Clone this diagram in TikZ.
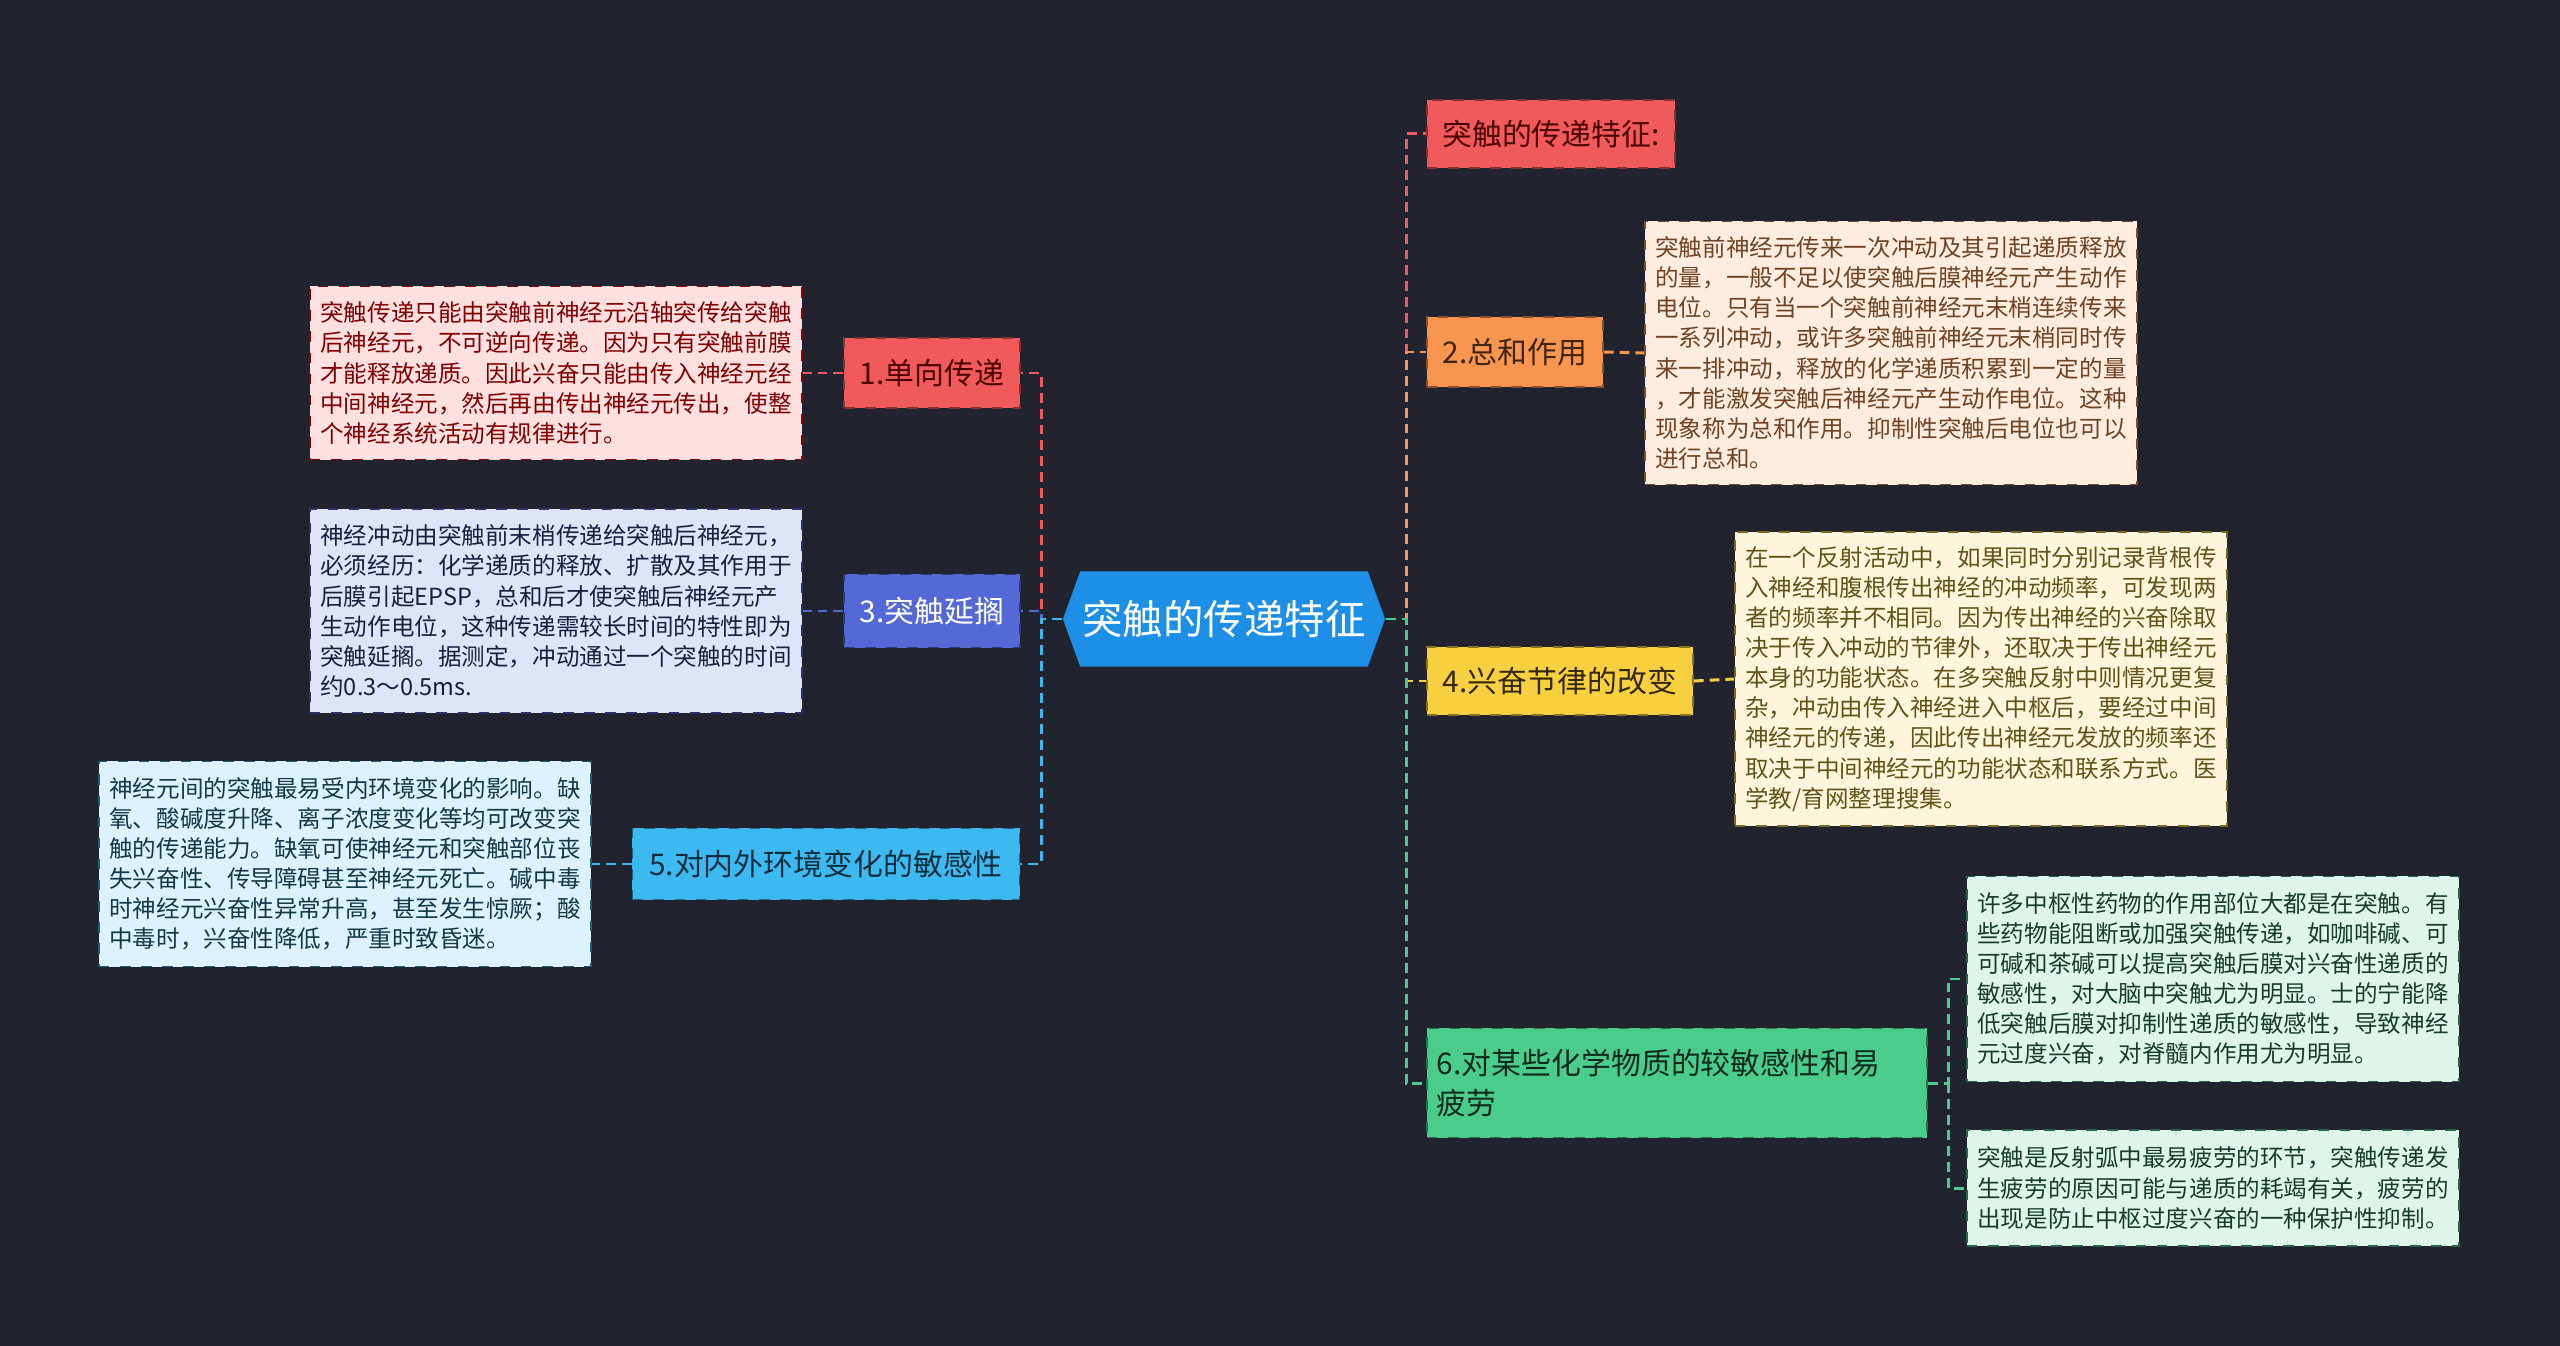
\documentclass[tikz,border=0pt]{standalone}
\usepackage{fontspec}
\setmainfont{Noto Sans CJK SC}
\usetikzlibrary{shapes.symbols}

\definecolor{bgc}{HTML}{21242F}
\definecolor{rootc}{HTML}{1E8FE6}
\definecolor{redc}{HTML}{F05A5A}
\definecolor{orgc}{HTML}{F8964F}
\definecolor{yelc}{HTML}{F8CF3F}
\definecolor{grnc}{HTML}{4ACD8B}
\definecolor{indc}{HTML}{5468D6}
\definecolor{skyc}{HTML}{3DB9F2}

\tikzset{
  topic/.style={signal, signal to=west and east, signal pointer angle=140,
    fill=rootc, text=white, minimum width=3.22cm, minimum height=0.95cm,
    inner sep=0pt, font=\fontsize{11.5}{13}\selectfont},
  branch/.style={rectangle, draw=#1!55!black, dashed, fill=#1, inner sep=0pt,
    minimum height=0.70cm, font=\fontsize{8.5}{11.6}\selectfont, align=left},
  note/.style={rectangle, draw=#1, dashed, inner sep=0pt, minimum width=4.92cm,
    font=\fontsize{6.7}{8.55}\selectfont, align=left},
  link/.style={draw=#1, line width=0.85pt, dash pattern=on 2.8pt off 1.7pt},
}

\begin{document}
\begin{tikzpicture}[x=0.01cm, y=-0.01cm]
\fill[bgc] (0,0) rectangle (2560,1346);
\useasboundingbox (0,0) rectangle (2560,1346);

\node[topic] (root) at (1224,619) {突触的传递特征};

% left side
\node[branch=redc, text=red!30!black, minimum width=1.76cm] (one) at (932,373) {1.单向传递};
\node[branch=indc, text=white, minimum width=1.76cm, minimum height=0.73cm] (three) at (932,611) {3.突触延搁};
\node[branch=skyc, text=skyc!25!black, minimum width=3.87cm, minimum height=0.71cm] (five) at (826,864) {5.对内外环境变化的敏感性};

\node[note=red!55!black, fill=red!12!white, text=red!50!black, minimum height=1.73cm] (n1) at (556,373)
{突触传递只能由突触前神经元沿轴突传给突触\\后神经元，不可逆向传递。因为只有突触前膜\\才能释放递质。因此兴奋只能由传入神经元经\\中间神经元，然后再由传出神经元传出，使整\\个神经系统活动有规律进行。};
\node[note=indc!50!black, fill=indc!18!white, text=indc!30!black, minimum height=2.04cm] (n3) at (556,611)
{神经冲动由突触前末梢传递给突触后神经元，\\必须经历：化学递质的释放、扩散及其作用于\\后膜引起EPSP，总和后才使突触后神经元产\\生动作电位，这种传递需较长时间的特性即为\\突触延搁。据测定，冲动通过一个突触的时间\\约0.3～0.5ms.};
\node[note=skyc!50!black, fill=skyc!18!white, text=skyc!30!black, minimum height=2.05cm] (n5) at (345,864)
{神经元间的突触最易受内环境变化的影响。缺\\氧、酸碱度升降、离子浓度变化等均可改变突\\触的传递能力。缺氧可使神经元和突触部位丧\\失兴奋性、传导障碍甚至神经元死亡。碱中毒\\时神经元兴奋性异常升高，甚至发生惊厥；酸\\中毒时，兴奋性降低，严重时致昏迷。};

% right side
\node[branch=redc, text=red!30!black, minimum width=2.48cm, minimum height=0.68cm] (zero) at (1551,134) {突触的传递特征:};
\node[branch=orgc, text=orgc!25!black, minimum width=1.76cm] (two) at (1515,352) {2.总和作用};
\node[branch=yelc, text=yelc!20!black, minimum width=2.66cm, minimum height=0.68cm] (four) at (1560,681) {4.兴奋节律的改变};
\node[branch=grnc, text=grnc!20!black, minimum width=5.00cm, minimum height=1.09cm, text width=4.80cm] (six) at (1677,1083) {6.对某些化学物质的较敏感性和易\\疲劳};

\node[note=orgc!50!black, fill=orgc!18!white, text=orgc!45!black, minimum height=2.63cm] (n2) at (1891,353)
{突触前神经元传来一次冲动及其引起递质释放\\的量，一般不足以使突触后膜神经元产生动作\\电位。只有当一个突触前神经元末梢连续传来\\一系列冲动，或许多突触前神经元末梢同时传\\来一排冲动，释放的化学递质积累到一定的量\\，才能激发突触后神经元产生动作电位。这种\\现象称为总和作用。抑制性突触后电位也可以\\进行总和。};
\node[note=yelc!50!black, fill=yelc!18!white, text=yelc!40!black, minimum height=2.94cm] (n4) at (1981,679)
{在一个反射活动中，如果同时分别记录背根传\\入神经和腹根传出神经的冲动频率，可发现两\\者的频率并不相同。因为传出神经的兴奋除取\\决于传入冲动的节律外，还取决于传出神经元\\本身的功能状态。在多突触反射中则情况更复\\杂，冲动由传入神经进入中枢后，要经过中间\\神经元的传递，因此传出神经元发放的频率还\\取决于中间神经元的功能状态和联系方式。医\\学教/育网整理搜集。};
\node[note=grnc!50!black, fill=grnc!18!white, text=grnc!30!black, minimum height=2.05cm] (n6a) at (2213,979)
{许多中枢性药物的作用部位大都是在突触。有\\些药物能阻断或加强突触传递，如咖啡碱、可\\可碱和茶碱可以提高突触后膜对兴奋性递质的\\敏感性，对大脑中突触尤为明显。士的宁能降\\低突触后膜对抑制性递质的敏感性，导致神经\\元过度兴奋，对脊髓内作用尤为明显。};
\node[note=grnc!50!black, fill=grnc!18!white, text=grnc!30!black, minimum height=1.16cm] (n6b) at (2213,1188)
{突触是反射弧中最易疲劳的环节，突触传递发\\生疲劳的原因可能与递质的耗竭有关，疲劳的\\出现是防止中枢过度兴奋的一种保护性抑制。};

\coordinate (lt) at (1041,619);
\coordinate (rt) at (1406,619);
\coordinate (st) at (1948,1083);

\path[link=redc] (root.west) -- (lt) |- (one.east);
\path[link=indc] (root.west) -- (lt) |- (three.east);
\path[link=skyc] (root.west) -- (lt) |- (five.east);
\path[link=redc] (root.east) -- (rt) |- (zero.west);
\path[link=orgc] (root.east) -- (rt) |- (two.west);
\path[link=yelc] (root.east) -- (rt) |- (four.west);
\path[link=grnc] (root.east) -- (rt) |- (six.west);

\path[link=redc] (one.west) -- (n1.east);
\path[link=indc] (three.west) -- (n3.east);
\path[link=skyc] (five.west) -- (n5.east);
\path[link=orgc] (two.east) -- (n2.west);
\path[link=yelc] (four.east) -- (n4.west);
\path[link=grnc] (six.east) -- (st) |- (n6a.west);
\path[link=grnc] (st) |- (n6b.west);
\end{tikzpicture}
\end{document}
